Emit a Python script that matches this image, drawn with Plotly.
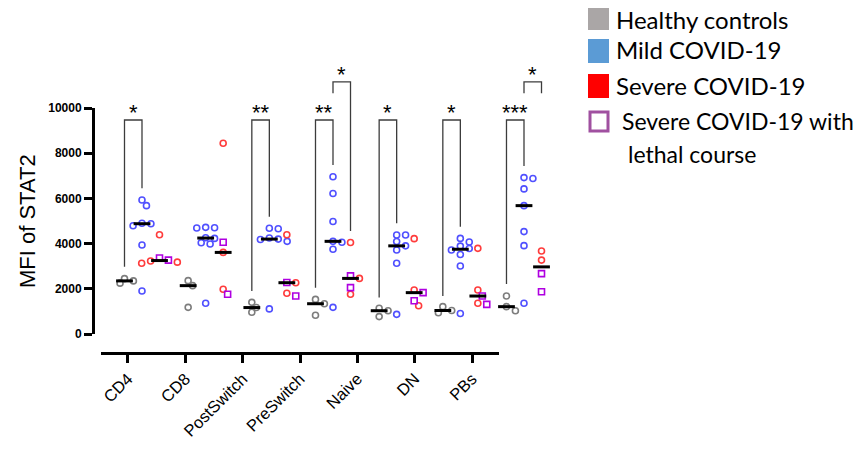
import numpy as np
import plotly.graph_objects as go

# ---------------- data ----------------
categories = ["CD4", "CD8", "PostSwitch", "PreSwitch", "Naive", "DN", "PBs"]

healthy = [
    [2250, 2450, 2350],
    [2360, 2140, 1180],
    [1400, 1170, 960],
    [1530, 1340, 830],
    [1140, 1030, 770],
    [1210, 1040, 940],
    [1680, 1210, 1030],
]
mild = [
    [5930, 5680, 4900, 4880, 4790, 3940, 1900],
    [4720, 4690, 4700, 4260, 4230, 4040, 3980, 1360],
    [4680, 4660, 4250, 4200, 4180, 4100, 1110],
    [6960, 6220, 4980, 4100, 4060, 3750, 1180],
    [4380, 4380, 4090, 3900, 3720, 3130, 870],
    [4230, 4070, 3890, 3780, 3720, 3520, 3010, 910],
    [6920, 6880, 6420, 5680, 4530, 3910, 1360],
]
severe = [
    [4390, 3130, 3180, 3230],
    [8440, 3610, 1980],
    [4390, 2270, 1800],
    [4050, 2460, 1760],
    [4220, 1950, 1250],
    [3790, 1950, 1360],
    [3670, 3270],
]
lethal = [
    [3360, 3270],
    [4060, 1760],
    [2280, 1680],
    [2570, 2050],
    [1830, 1470],
    [1680, 1310],
    [2670, 1870],
]

y_ticks = [0, 2000, 4000, 6000, 8000, 10000]

# significance brackets: category, group a, group b, label
sig_cat = [0, 2, 3, 3, 4, 5, 6, 6]
sig_a = [0, 0, 0, 1, 0, 0, 0, 1]
sig_b = [1, 1, 1, 2, 1, 1, 1, 2]
sig_label = ["*", "**", "**", "*", "*", "*", "***", "*"]
# bracket geometry (value units)
sig_top = [9470, 9470, 9470, 11160, 9470, 9470, 9470, 11160]
sig_leg_a = [2980, 1900, 2050, 10650, 1620, 1680, 2210, 10650]
sig_leg_b = [6450, 5190, 7480, 4560, 4900, 4750, 7430, 10650]

legend_labels = ["Healthy controls", "Mild COVID-19", "Severe COVID-19",
                 "Severe COVID-19 with", "lethal course"]

# ---------------- layout constants (screen pixels) ----------------
OFF = 8  # page body margin
W, H = 866 - 2 * OFF, 451 - 2 * OFF
Y0_PX, Y10K_PX, YTOP_PX = 334, 108, 60
PX_PER_VAL = (Y0_PX - Y10K_PX) / 10000.0
YMAX2 = (Y0_PX - YTOP_PX) / PX_PER_VAL
XAX_PX = 353
YAX_PX = 93
CAT0_PX, CAT6_PX = 142, 524
PX_PER_CAT = (CAT6_PX - CAT0_PX) / 6.0
GROUP_OFF = 0.275


def fx(px):
    return (px - OFF) / W


def fy(py):
    return 1 - (py - OFF) / H


def swarm(vals, center, step=0.07, mind=6.3):
    placed = []
    xs = [0.0] * len(vals)
    order = sorted(range(len(vals)), key=lambda k: -vals[k])
    for k in order:
        for j in range(0, 20):
            m = (j + 1) // 2
            off = m * step * (1 if j % 2 else -1)
            x = center + off
            ok = True
            for (px, pv) in placed:
                dx = (x - px) * PX_PER_CAT
                dy = (vals[k] - pv) * PX_PER_VAL
                if (dx * dx + dy * dy) ** 0.5 < mind:
                    ok = False
                    break
            if ok:
                break
        placed.append((x, vals[k]))
        xs[k] = x
    return xs


COL_GRAY = "rgb(125,125,125)"
COL_BLUE = "rgb(80,80,255)"
COL_RED = "rgb(255,60,60)"
COL_PURPLE = "rgb(175,0,225)"

fig = go.Figure()

# empty trace so the labelled axes are drawn
fig.add_trace(go.Scatter(x=[], y=[], xaxis="x", yaxis="y", hoverinfo="skip"))

gx, gy, bx, by, rx, ry, px_, py_ = [], [], [], [], [], [], [], []
med_x, med_y = [], []
for i in range(len(categories)):
    c0 = i - GROUP_OFF
    c1 = i
    c2 = i + GROUP_OFF
    gx += swarm(healthy[i], c0)
    gy += healthy[i]
    bx += swarm(mild[i], c1)
    by += mild[i]
    comb = severe[i] + lethal[i]
    cx = swarm(comb, c2)
    n = len(severe[i])
    rx += cx[:n]
    ry += severe[i]
    px_ += cx[n:]
    py_ += lethal[i]
    med_x += [c0, c1, c2]
    med_y += [float(np.median(healthy[i])), float(np.median(mild[i])), float(np.median(comb))]


def pts(x, y, color, symbol):
    return go.Scatter(x=x, y=y, mode="markers", xaxis="x2", yaxis="y2",
                      marker=dict(symbol=symbol, size=6, color=color,
                                  line=dict(color=color, width=1.6)),
                      hoverinfo="skip", cliponaxis=False)


fig.add_trace(pts(gx, gy, COL_GRAY, "circle-open"))
fig.add_trace(pts(bx, by, COL_BLUE, "circle-open"))
fig.add_trace(pts(rx, ry, COL_RED, "circle-open"))
fig.add_trace(pts(px_, py_, COL_PURPLE, "square-open"))
fig.add_trace(go.Scatter(x=med_x, y=med_y, mode="markers", xaxis="x2", yaxis="y2",
                         marker=dict(symbol="line-ew", size=12, color="black",
                                     line=dict(color="black", width=3)),
                         hoverinfo="skip", cliponaxis=False))

# brackets
for k in range(len(sig_cat)):
    xa = sig_cat[k] + (sig_a[k] - 1) * GROUP_OFF
    xb = sig_cat[k] + (sig_b[k] - 1) * GROUP_OFF
    fig.add_trace(go.Scatter(x=[xa, xa, xb, xb],
                             y=[sig_leg_a[k], sig_top[k], sig_top[k], sig_leg_b[k]],
                             mode="lines", xaxis="x2", yaxis="y2",
                             line=dict(color="rgb(60,60,60)", width=1.3),
                             hoverinfo="skip"))
    star_px = (Y0_PX - sig_top[k] * PX_PER_VAL) - 12 + 5
    fig.add_annotation(x=(xa + xb) / 2, y=(Y0_PX - star_px) / PX_PER_VAL,
                       xref="x2", yref="y2", text=sig_label[k], showarrow=False,
                       yanchor="middle", xanchor="center",
                       font=dict(family="Liberation Sans, Arial", size=22, color="black"))

# y title
fig.add_annotation(x=fx(27), y=fy(221), xref="paper", yref="paper", text="MFI of STAT2",
                   textangle=-90, showarrow=False, xanchor="center", yanchor="middle",
                   font=dict(family="Liberation Sans, Arial", size=22, color="black"))

# legend (drawn manually)
leg_rects = [(588, 5, 609, 30), (588, 39, 609, 63), (588, 74, 609, 98), (590, 112, 608, 131)]
leg_fill = ["rgb(170,166,166)", "rgb(91,155,213)", "rgb(255,0,0)", "white"]
leg_line = [None, None, None, "rgb(160,80,160)"]
shapes = []
for r, f, l in zip(leg_rects, leg_fill, leg_line):
    shapes.append(dict(type="rect", xref="paper", yref="paper",
                       x0=fx(r[0]), x1=fx(r[2]), y0=fy(r[3]), y1=fy(r[1]),
                       fillcolor=f, line=dict(width=3 if l else 0, color=l or f)))
leg_text_pos = [(614, 19), (614, 50), (614, 85), (620, 121), (626, 154)]
leg_size = [24, 24, 24, 23, 23]
for t, (lx, ly), s in zip(legend_labels, leg_text_pos, leg_size):
    fig.add_annotation(x=fx(lx), y=fy(ly), xref="paper", yref="paper", text=t,
                       showarrow=False, xanchor="left", yanchor="middle",
                       font=dict(family="Lato, Carlito, sans-serif", size=s, color="black"))

fig.update_layout(
    width=W, height=H, margin=dict(l=0, r=0, t=0, b=0, pad=0, autoexpand=False),
    paper_bgcolor="white", plot_bgcolor="rgba(0,0,0,0)", showlegend=False,
    shapes=shapes,
    xaxis=dict(domain=[fx(101), fx(499)], range=[-0.47, 6.47], anchor="free",
               position=fy(XAX_PX), tickvals=list(range(len(categories))),
               ticktext=categories, tickangle=-45, showline=True, linewidth=2.5,
               linecolor="black", ticks="outside", ticklen=8, tickwidth=2.5,
               tickcolor="black", showgrid=False, zeroline=False, automargin=False,
               tickfont=dict(family="Liberation Sans, Arial", size=16.5, color="black")),
    yaxis=dict(domain=[fy(Y0_PX), fy(Y10K_PX)], range=[0, 10000], anchor="free",
               position=fx(YAX_PX), tickvals=y_ticks, tickformat="d", showline=True,
               linewidth=3, linecolor="black", ticks="outside", ticklen=8, tickwidth=2.5,
               tickcolor="black", showgrid=False, zeroline=False, automargin=False,
               tickfont=dict(family="Liberation Sans, Arial", size=12, color="black",
                             weight="bold")),
    xaxis2=dict(domain=[fx(CAT0_PX - PX_PER_CAT / 2), fx(CAT6_PX + PX_PER_CAT / 2)],
                range=[-0.5, 6.5], anchor="free", position=0, visible=False,
                showgrid=False, zeroline=False, automargin=False),
    yaxis2=dict(domain=[fy(Y0_PX), fy(YTOP_PX)], range=[0, YMAX2], anchor="free",
                position=0, visible=False, showgrid=False, zeroline=False, automargin=False),
)

fig.write_html("out.html")
